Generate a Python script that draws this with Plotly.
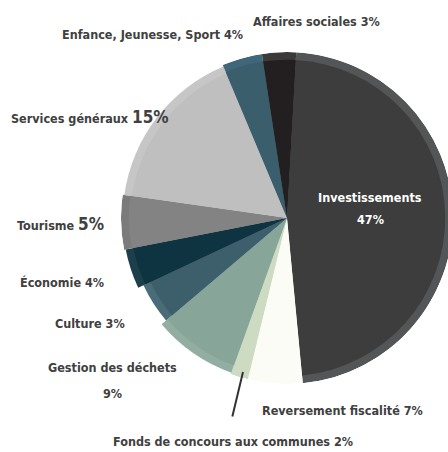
import plotly.graph_objects as go

# ---------------- data ----------------
categories = ["Investissements", "Reversement fiscalité", "Fonds de concours aux communes",
              "Gestion des déchets", "Culture", "Économie", "Tourisme",
              "Services généraux", "Enfance, Jeunesse, Sport", "Affaires sociales"]
# slice shares as drawn
shares = [47.5, 5.3, 1.7, 8.3, 4.2, 3.9, 5.3, 16.4, 3.9, 3.3]
# percentages printed in the labels
label_pct = [47, 7, 2, 9, 3, 4, 5, 15, 4, 3]

# ---------------- style ----------------
start_angle = 3.2  # degrees clockwise from 12 o'clock where the first slice begins
outer_r = [1.0, 1.0, 1.0, 0.99, 0.955, 0.99, 1.0, 0.99, 1.0, 1.0]
band = 0.047
band_colors = ["#545557", "#fbfcf6", "#cddbc2", "#92ada2", "#4a6b78",
               "#1d3f4b", "#7b7b7b", "#c6c6c6", "#40667a", "#3a3a3b"]
inner_colors = ["#3d3d3d", "#fbfcf6", "#cddbc2", "#88a59a", "#3d5f6c",
                "#0f3441", "#838383", "#bfbfbf", "#3b5e6c", "#231f20"]

total = sum(shares)
widths = [s / total * 360 for s in shares]
thetas = []
acc = start_angle
for w in widths:
    thetas.append(acc + w / 2)
    acc += w

fig = go.Figure()
fig.add_trace(go.Barpolar(theta=thetas, width=widths, r=outer_r,
                          marker=dict(color=band_colors, line=dict(width=0)),
                          hoverinfo="skip", showlegend=False))
fig.add_trace(go.Barpolar(theta=thetas, width=widths, r=[r - band for r in outer_r],
                          marker=dict(color=inner_colors, line=dict(width=0)),
                          hoverinfo="skip", showlegend=False))

# the pie runs slightly past the right edge of the 448px window, as in the reference
W, H = 454, 452
cx, cy, R = 287, 218, 166

FONT = "DejaVu Sans Condensed, sans-serif"
TXT = "#404040"
FS = 12.5

def P(px, py):
    return px / W, 1 - py / H

def big(t, size=17):
    return f'<span style="font-size:{size}px">{t}</span>'

lab = dict(zip(categories, label_pct))
# (text, x, y, xanchor, size, colour)
ann_specs = [
    ("Affaires sociales " + f"{lab['Affaires sociales']}%", 316, 22, "center", FS, TXT),
    ("Enfance, Jeunesse, Sport " + f"{lab['Enfance, Jeunesse, Sport']}%", 152, 35, "center", FS, TXT),
    ("Services généraux " + big(f"{lab['Services généraux']}%"), 9, 117, "left", FS, TXT),
    ("Tourisme " + big(f"{lab['Tourisme']}%"), 106, 224, "right", FS, TXT),
    ("Économie " + f"{lab['Économie']}%", 106, 282, "right", FS, TXT),
    ("Culture " + f"{lab['Culture']}%", 127, 323, "right", FS, TXT),
    ("Gestion des déchets", 112, 367, "center", FS, TXT),
    (f"{lab['Gestion des déchets']}%", 112, 393, "center", FS, TXT),
    ("Reversement fiscalité " + f"{lab['Reversement fiscalité']}%", 342, 410, "center", FS, TXT),
    ("Fonds de concours aux communes " + f"{lab['Fonds de concours aux communes']}%", 233, 441, "center", FS, TXT),
    ("Investissements", 370, 197, "center", FS, "white"),
    (f"{lab['Investissements']}%", 370, 219, "center", FS, "white"),
]
annotations = []
for text, px, py, xa, size, col in ann_specs:
    x, y = P(px, py)
    annotations.append(dict(text=text, x=x, y=y, xref="paper", yref="paper",
                            xanchor=xa, yanchor="middle", showarrow=False,
                            align="center",
                            font=dict(family=FONT, size=size, color=col, weight="bold")))
# leader line for the small slice
hx, hy = P(243, 372)
annotations.append(dict(text="", x=hx, y=hy, xref="paper", yref="paper",
                        ax=-11, ay=46, showarrow=True, arrowhead=0, arrowwidth=2,
                        arrowcolor="#333333", standoff=0, startstandoff=0))

fig.update_layout(
    width=W, height=H,
    margin=dict(l=0, r=0, t=0, b=0),
    paper_bgcolor="white",
    polar=dict(
        domain=dict(x=[(cx - R) / W, (cx + R) / W], y=[1 - (cy + R) / H, 1 - (cy - R) / H]),
        bgcolor="white",
        bargap=0,
        barmode="overlay",
        hole=0,
        radialaxis=dict(visible=False, range=[0, 1]),
        angularaxis=dict(visible=False, rotation=90, direction="clockwise"),
    ),
    annotations=annotations,
    font=dict(family=FONT, color=TXT),
)

fig.write_html("out.html",
               config={"displayModeBar": False},
               post_script="document.body.style.margin='0px';document.body.style.overflow='hidden';")
